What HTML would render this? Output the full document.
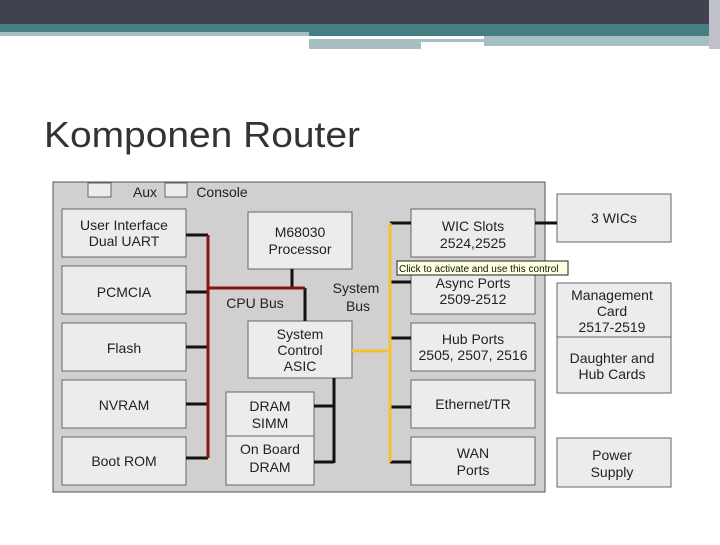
<!DOCTYPE html><html><head><style>body{margin:0;width:720px;height:540px;overflow:hidden;background:#fff;font-family:"Liberation Sans",sans-serif}</style></head><body>
<svg width="720" height="540" xmlns="http://www.w3.org/2000/svg" font-family="Liberation Sans, sans-serif">
<rect x="0" y="0" width="720" height="24" fill="#41424f"/>
<rect x="0" y="24" width="720" height="8" fill="#467f83"/>
<rect x="0" y="32" width="309" height="4" fill="#a6bfc3"/>
<rect x="309" y="32" width="411" height="4" fill="#467f83"/>
<rect x="309" y="39" width="175" height="3" fill="#a6bfc3"/>
<rect x="484" y="36" width="230" height="10" fill="#a6bfc3"/>
<rect x="309" y="42" width="112" height="7" fill="#a6bfc3"/>
<rect x="709" y="0" width="11" height="49" fill="#bfc0c8"/>
<text x="44" y="147" font-size="36" fill="#333" textLength="316" lengthAdjust="spacingAndGlyphs">Komponen Router</text>
<rect x="53" y="182" width="492" height="310" fill="#d0d0d0" stroke="#555"/>
<g fill="#ececec" stroke="#666">
<rect x="88" y="183" width="23" height="14"/><rect x="165" y="183" width="22" height="14"/>
<rect x="62" y="209" width="124" height="48"/><rect x="62" y="266" width="124" height="48"/><rect x="62" y="323" width="124" height="48"/><rect x="62" y="380" width="124" height="48"/><rect x="62" y="437" width="124" height="48"/>
<rect x="248" y="212" width="104" height="57"/><rect x="248" y="321" width="104" height="57"/>
<rect x="226" y="392" width="88" height="44"/><rect x="226" y="436" width="88" height="49"/>
<rect x="411" y="209" width="124" height="48"/><rect x="411" y="266" width="124" height="48"/><rect x="411" y="323" width="124" height="48"/><rect x="411" y="380" width="124" height="48"/><rect x="411" y="437" width="124" height="48"/>
<rect x="557" y="194" width="114" height="48"/><rect x="557" y="283" width="114" height="54"/><rect x="557" y="337" width="114" height="56"/><rect x="557" y="438" width="114" height="49"/>
</g>
<g stroke="#111" stroke-width="3" fill="none">
<path d="M186 235H208M186 292H208M186 347H208M186 404H208M186 458H208"/>
<path d="M292 269V288M305 288V321M334 378V463M314 406H334M314 462H334"/>
<path d="M390 223H411M390 282H411M390 338H411M390 407H411M390 462H411M535 223H557"/>
</g>
<path d="M208 235V458M208 288H305" stroke="#8b1010" stroke-width="3" fill="none"/>
<path d="M390 223V462M352 351H390" stroke="#f2c230" stroke-width="3" fill="none"/>
<g font-size="14" fill="#222" text-anchor="middle">
<text x="145" y="197">Aux</text><text x="222" y="197">Console</text>
<text x="124" y="230">User Interface</text><text x="124" y="246">Dual UART</text>
<text x="124" y="297">PCMCIA</text><text x="124" y="353">Flash</text><text x="124" y="410">NVRAM</text><text x="124" y="466">Boot ROM</text>
<text x="300" y="237">M68030</text><text x="300" y="254">Processor</text>
<text x="255" y="308">CPU Bus</text><text x="356" y="293">System</text><text x="358" y="311">Bus</text>
<text x="300" y="339">System</text><text x="300" y="355">Control</text><text x="300" y="371">ASIC</text>
<text x="270" y="411">DRAM</text><text x="270" y="428">SIMM</text><text x="270" y="454">On Board</text><text x="270" y="472">DRAM</text>
<text x="473" y="231">WIC Slots</text><text x="473" y="248">2524,2525</text>
<text x="473" y="288">Async Ports</text><text x="473" y="304">2509-2512</text>
<text x="473" y="344">Hub Ports</text><text x="473" y="360">2505, 2507, 2516</text>
<text x="473" y="409">Ethernet/TR</text>
<text x="473" y="458">WAN</text><text x="473" y="475">Ports</text>
<text x="614" y="223">3 WICs</text>
<text x="612" y="300">Management</text><text x="612" y="316">Card</text><text x="612" y="332">2517-2519</text>
<text x="612" y="363">Daughter and</text><text x="612" y="379">Hub Cards</text>
<text x="612" y="460">Power</text><text x="612" y="477">Supply</text>
</g>
<rect x="397" y="261" width="171" height="14" fill="#ffffe1" stroke="#222"/>
<text x="399" y="272" font-size="10" fill="#111">Click to activate and use this control</text>
</svg></body></html>
